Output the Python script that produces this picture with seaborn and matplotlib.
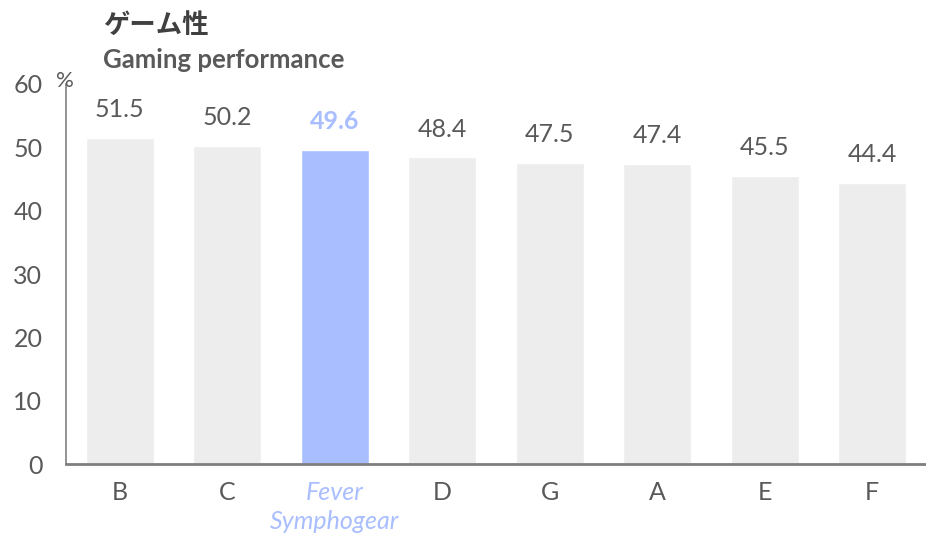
import matplotlib
matplotlib.use("Agg")
import matplotlib.pyplot as plt
import seaborn as sns
import pandas as pd

categories = ["B", "C", "Fever\nSymphogear", "D", "G", "A", "E", "F"]
values = [51.5, 50.2, 49.6, 48.4, 47.5, 47.4, 45.5, 44.4]
highlight = "Fever\nSymphogear"
yticks = [0, 10, 20, 30, 40, 50, 60]

sns.set_theme(style="white")
plt.rcParams['font.family'] = ['Lato', 'Noto Sans CJK JP', 'DejaVu Sans']

gray_txt = "#595959"
bar_gray = "#EDEDED"
hl = "#A9BEFF"

df = pd.DataFrame({"cat": categories, "val": values})
palette = {c: (hl if c == highlight else bar_gray) for c in categories}

fig = plt.figure(figsize=(9.26, 5.36), dpi=100)
ax = fig.add_axes([0.0713, 0.1343, 0.9287, 0.709])
sns.barplot(data=df, x="cat", y="val", hue="cat", palette=palette,
            width=0.63, legend=False, ax=ax, saturation=1)

ax.set_xlim(-0.5, len(categories) - 0.5)
ax.set_ylim(0, 60)
ax.set_yticks(yticks)
ax.set_yticklabels([str(t) for t in yticks], fontsize=18, color=gray_txt)
ax.tick_params(axis='y', length=0, pad=17)
ax.tick_params(axis='x', length=0, pad=12)
ax.set_xlabel("")
ax.set_ylabel("")

for lbl in ax.get_xticklabels():
    lbl.set_fontsize(18)
    lbl.set_linespacing(1.35)
    if lbl.get_text() == highlight:
        lbl.set_color(hl)
        lbl.set_fontstyle("italic")
    else:
        lbl.set_color(gray_txt)

for i, (c, v) in enumerate(zip(categories, values)):
    is_hl = c == highlight
    ax.annotate(f"{v:.1f}", (i, v), xytext=(0, 12), textcoords="offset points",
                ha="center", va="bottom", fontsize=18,
                color=hl if is_hl else gray_txt,
                fontweight="bold" if is_hl else "normal")

for s in ["top", "right"]:
    ax.spines[s].set_visible(False)
ax.spines["left"].set_color("#7f7f7f")
ax.spines["left"].set_linewidth(1.2)
ax.spines["bottom"].set_color("#7f7f7f")
ax.spines["bottom"].set_linewidth(2)

fig.text(0.0700, 1 - 81 / 536, "%", fontsize=16, color=gray_txt, ha="center", va="center")
fig.text(0.111, 1 - 25 / 536, "ゲーム性", fontsize=19, fontweight="bold", color="#404040",
         ha="left", va="center", family=['Noto Sans CJK JP', 'DejaVu Sans'])
fig.text(0.111, 1 - 60 / 536, "Gaming performance", fontsize=18.5, fontweight="bold",
         color=gray_txt, ha="left", va="center")

fig.savefig("out.png", dpi=100)
